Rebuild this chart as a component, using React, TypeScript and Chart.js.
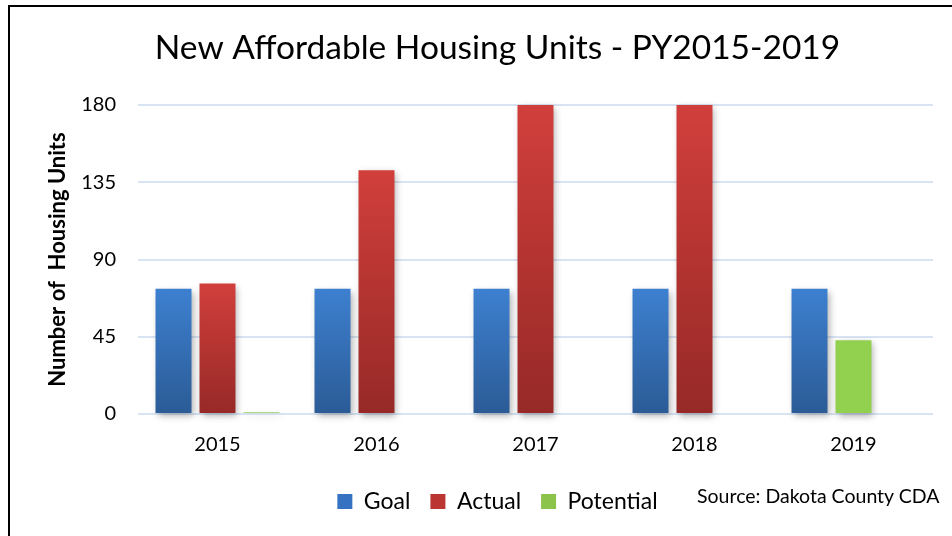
import { useEffect, useRef } from "react";
import { Chart, registerables } from "chart.js";

Chart.register(...registerables);

const chartTitle = "New Affordable Housing Units - PY2015-2019";
const yAxisTitle = "Number of  Housing Units";
const sourceNote = "Source: Dakota County CDA";
const categories = ["2015", "2016", "2017", "2018", "2019"];
const goal = [73, 73, 73, 73, 73];
// 2019's "actual" slot holds the potential figure, shown in green
const actual = [76, 142, 180, 180, 43];
const actualIsPotential = [false, false, false, false, true];
const potential = [1, 0, 0, 0, 0];
const yTicks = [0, 45, 90, 135, 180];
const seriesNames = ["Goal", "Actual", "Potential"];

const FONT = "Lato";
const GREEN = "#92d050";

function gradientFill(top: string, bottom: string, solid: string, greenMask?: boolean[]) {
  return (ctx: any) => {
    if (greenMask && ctx.type === "data" && greenMask[ctx.dataIndex]) return GREEN;
    const chart = ctx.chart;
    const y = chart.scales && chart.scales.y;
    if (!chart.chartArea || !y || ctx.type !== "data") return solid;
    const v = Math.min(Number(ctx.raw) || 0, y.max);
    const y0 = y.getPixelForValue(0);
    const y1 = y.getPixelForValue(v);
    if (!isFinite(y0) || !isFinite(y1) || y0 === y1) return solid;
    const g = chart.ctx.createLinearGradient(0, y1, 0, y0);
    g.addColorStop(0, top);
    g.addColorStop(1, bottom);
    return g;
  };
}

const legendColors = ["#3672c2", "#bb3532", "#8cc34a"];

const shadowPlugin = {
  id: "barShadow",
  beforeDatasetsDraw(chart: any) {
    const c = chart.ctx;
    c.save();
    c.shadowColor = "rgba(0,0,0,0.32)";
    c.shadowBlur = 7;
    c.shadowOffsetX = 2;
    c.shadowOffsetY = 3;
  },
  afterDatasetsDraw(chart: any) {
    chart.ctx.restore();
  },
};

export default function App() {
  const ref = useRef<HTMLCanvasElement | null>(null);

  useEffect(() => {
    if (!ref.current) return;
    const chart = new Chart(ref.current, {
      type: "bar",
      data: {
        labels: categories,
        datasets: [
          {
            label: seriesNames[0],
            data: goal,
            backgroundColor: gradientFill("#3d80d0", "#2b5b96", legendColors[0]),
            borderWidth: 0,
            clip: 10 as any,
          },
          {
            label: seriesNames[1],
            data: actual,
            backgroundColor: gradientFill("#d13f3b", "#962927", legendColors[1], actualIsPotential),
            borderWidth: 0,
            clip: 10 as any,
          },
          {
            label: seriesNames[2],
            data: potential,
            backgroundColor: GREEN,
            borderWidth: 0,
            clip: 10 as any,
          },
        ],
      },
      options: {
        animation: false,
        responsive: false,
        devicePixelRatio: 1,
        datasets: { bar: { categoryPercentage: 0.83, barPercentage: 0.818 } } as any,
        layout: { padding: { left: 62, right: 19, top: 0, bottom: 13 } },
        plugins: {
          title: {
            display: true,
            text: chartTitle,
            color: "#000",
            font: { family: FONT, size: 33.5, weight: "normal" },
            padding: { top: 28.5, bottom: 36.3 },
          },
          legend: {
            position: "bottom",
            labels: {
              color: "#000",
              font: { family: FONT, size: 23 },
              boxWidth: 15,
              boxHeight: 15,
              padding: 20,
              generateLabels: (chart: any) =>
                chart.data.datasets.map((d: any, i: number) => ({
                  text: d.label,
                  fillStyle: legendColors[i],
                  strokeStyle: legendColors[i],
                  lineWidth: 0,
                  hidden: false,
                  datasetIndex: i,
                  fontColor: "#000",
                })),
            },
          },
          tooltip: { enabled: false },
        },
        scales: {
          x: {
            grid: { display: false, drawTicks: false },
            border: { display: false },
            ticks: { color: "#000", font: { family: FONT, size: 20 }, padding: 19 },
            afterFit: (s: any) => {
              s.height = 56;
            },
          },
          y: {
            min: 0,
            max: 180,
            afterBuildTicks: (s: any) => {
              s.ticks = yTicks.map((v) => ({ value: v }));
            },
            grid: { color: "#d8e4f3", lineWidth: 2, drawTicks: false },
            border: { display: false },
            ticks: { color: "#000", font: { family: FONT, size: 20 }, padding: 22 },
            title: {
              display: true,
              text: yAxisTitle,
              color: "#000",
              font: { family: FONT, size: 22, weight: "bold" },
              padding: { top: -17.2, bottom: 0 },
            },
            afterFit: (s: any) => {
              s.width = 76;
            },
          },
        },
      },
      plugins: [shadowPlugin],
    });
    return () => chart.destroy();
  }, []);

  return (
    <div style={{ position: "absolute", left: 0, top: 0, width: 952, height: 536, overflow: "hidden", background: "#fff" }}>
      <canvas ref={ref} width={952} height={536} style={{ display: "block", width: 952, height: 536 }} />
      <div
        style={{
          position: "absolute",
          left: 8,
          top: 5,
          width: 980,
          height: 600,
          borderLeft: "2px solid #000",
          borderTop: "2px solid #000",
          pointerEvents: "none",
        }}
      />
      <div
        style={{
          position: "absolute",
          left: 697,
          top: 484,
          fontFamily: FONT,
          fontSize: 19.5,
          color: "#000",
          whiteSpace: "nowrap",
        }}
      >
        {sourceNote}
      </div>
    </div>
  );
}
